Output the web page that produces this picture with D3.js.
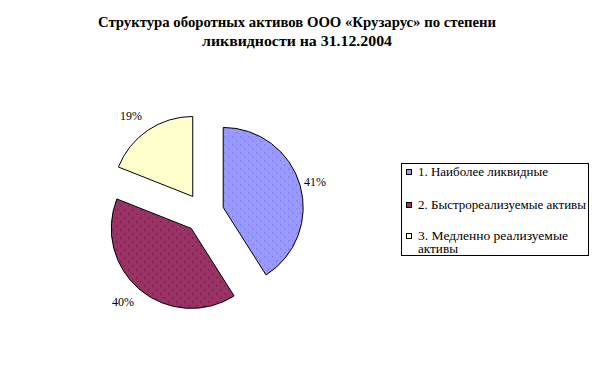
<!DOCTYPE html>
<html><head><meta charset="utf-8">
<script src="https://cdn.jsdelivr.net/npm/d3@7"></script>
<style>body{margin:0;background:#fff}</style>
</head><body>
<script>
const categories = ["1. Наиболее ликвидные", "2. Быстрореализуемые активы", "3. Медленно реализуемые активы"];
const values = [41, 40, 19];
const labels = ["41%", "40%", "19%"];
const colors = ["#9999FF", "#993366", "#FFFFCC"];
const dotColors = ["#6666DD", "#660033", "#FFFFFF"];
const titleLines = ["Структура оборотных активов ООО «Крузарус» по степени", "ликвидности на 31.12.2004"];

const W = 596, H = 369;
const svg = d3.select("body").append("svg").attr("width", W).attr("height", H);
const defs = svg.append("defs");
colors.forEach((c, i) => {
  const p = defs.append("pattern").attr("id", "pat" + i).attr("patternUnits", "userSpaceOnUse")
    .attr("width", 8).attr("height", 8);
  p.append("rect").attr("width", 8).attr("height", 8).attr("fill", c);
  p.append("rect").attr("x", 1).attr("y", 1).attr("width", 1).attr("height", 1).attr("fill", dotColors[i]);
  p.append("rect").attr("x", 5).attr("y", 5).attr("width", 1).attr("height", 1).attr("fill", dotColors[i]);
});

const font = "Liberation Serif, Times New Roman, serif";
const titleW = [398, 190];
svg.append("g").selectAll("text").data(titleLines).join("text")
  .attr("x", 297).attr("y", (d, i) => 27 + i * 19)
  .attr("text-anchor", "middle").attr("font-family", font).attr("font-weight", "bold")
  .attr("font-size", 14).attr("textLength", (d, i) => titleW[i]).attr("lengthAdjust", "spacingAndGlyphs")
  .text(d => d);

const cx = 204, cy = 213, r = 80, explode = 20;
const pie = d3.pie().sort(null).value(d => d)(values);
const arc = d3.arc().innerRadius(0).outerRadius(r);
const g = svg.append("g").attr("transform", `translate(${cx},${cy})`);
g.selectAll("path").data(pie).join("path")
  .attr("transform", d => {
    const a = (d.startAngle + d.endAngle) / 2;
    return `translate(${explode * Math.sin(a)},${-explode * Math.cos(a)})`;
  })
  .attr("d", arc).attr("fill", (d, i) => `url(#pat${i})`)
  .attr("stroke", "#000").attr("stroke-width", 1);

const labelPos = [[315, 186], [123, 306], [131, 120]];
svg.append("g").selectAll("text").data(labels).join("text")
  .attr("x", (d, i) => labelPos[i][0]).attr("y", (d, i) => labelPos[i][1])
  .attr("text-anchor", "middle").attr("font-family", font).attr("font-size", 12).attr("fill", "#000")
  .text(d => d);

const lg = svg.append("g");
lg.append("rect").attr("x", 401.5).attr("y", 163.5).attr("width", 187).attr("height", 92)
  .attr("fill", "#fff").attr("stroke", "#000").attr("stroke-width", 1);
const rows = [[176], [209], [240, 253]];
const legendText = [["1. Наиболее ликвидные"], ["2. Быстрореализуемые активы"], ["3. Медленно реализуемые", "активы"]];
const legendW = [[130], [168], [150, 40]];
categories.forEach((c, i) => {
  lg.append("rect").attr("x", 406.5).attr("y", rows[i][0] - 6.5).attr("width", 5).attr("height", 5)
    .attr("fill", colors[i]).attr("stroke", "#000").attr("stroke-width", 1);
  legendText[i].forEach((t, j) => {
    lg.append("text").attr("x", 418).attr("y", rows[i][j]).attr("font-family", font).attr("font-size", 12)
      .attr("textLength", legendW[i][j]).attr("lengthAdjust", "spacingAndGlyphs")
      .text(t);
  });
});
</script>
</body></html>
